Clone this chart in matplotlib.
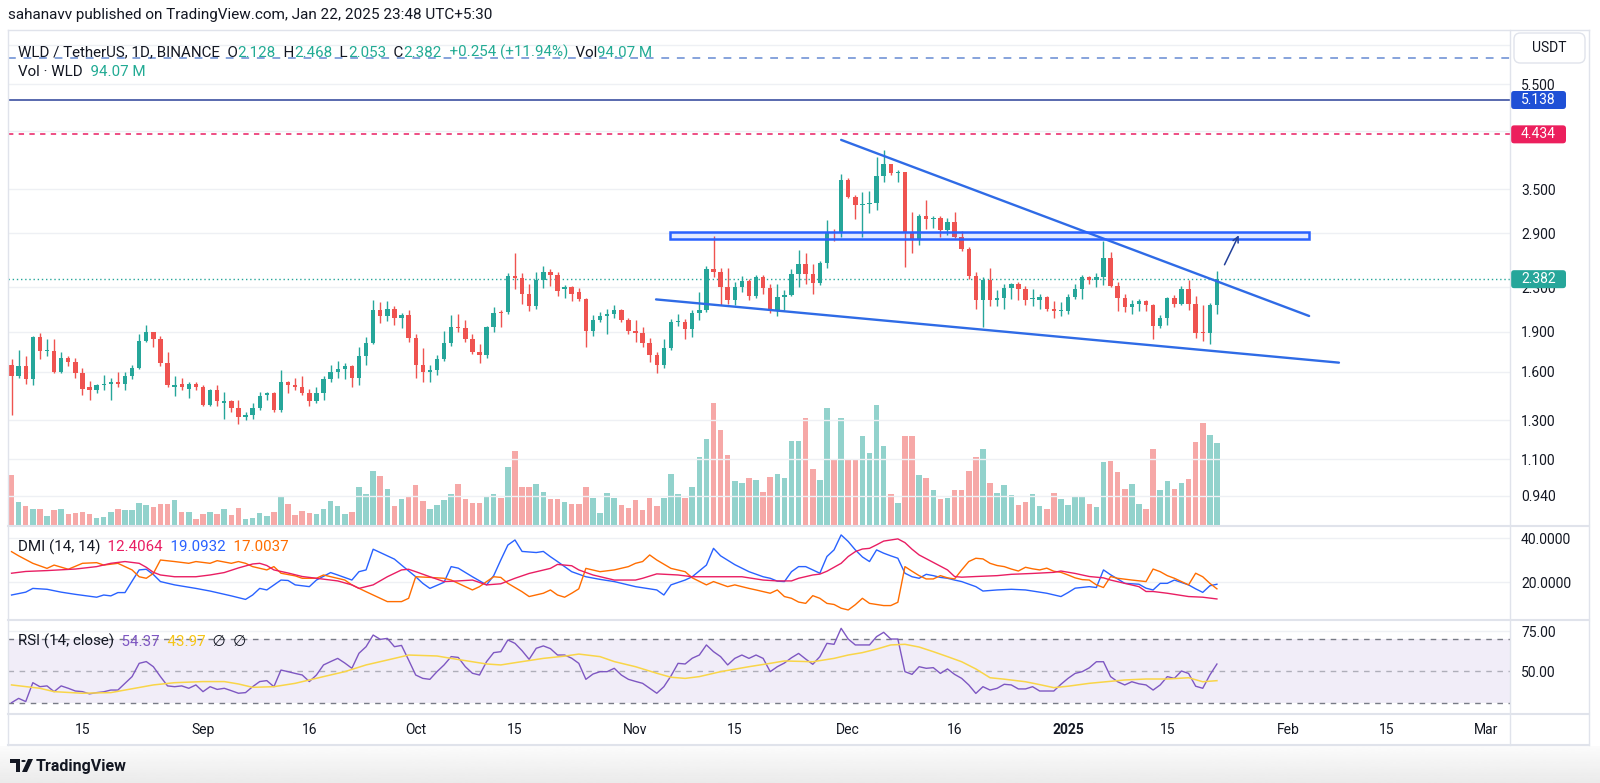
import numpy as np
import pandas as pd
import matplotlib
matplotlib.use('Agg')
import matplotlib.pyplot as plt
import matplotlib.dates as mdates
from matplotlib.ticker import NullLocator, FixedLocator, FixedFormatter
from matplotlib.patches import Rectangle, FancyBboxPatch, Polygon, Circle
from matplotlib.lines import Line2D
from matplotlib.offsetbox import TextArea, HPacker, AnnotationBbox

plt.rcParams['font.family'] = ['Roboto', 'DejaVu Sans']

W, H = 1600, 783
UP, DOWN = '#26a69a', '#ef5350'
UPTXT = '#22ab94'
INK = '#131722'
GRID = '#eef0f4'
BORDER = '#e0e3eb'

# ---- daily candles WLD/USDT, first bar 2024-08-05 ----
first_day = '2024-08-05'
opens = [1.65, 1.57, 1.64, 1.55, 1.86, 1.75, 1.75, 1.60, 1.70, 1.67,
         1.59, 1.50, 1.48, 1.51, 1.52, 1.53, 1.52, 1.57, 1.63, 1.83,
         1.90, 1.84, 1.66, 1.50, 1.52, 1.49, 1.52, 1.50, 1.39, 1.48,
         1.40, 1.41, 1.37, 1.32, 1.33, 1.37, 1.45, 1.46, 1.36, 1.53,
         1.51, 1.50, 1.46, 1.41, 1.46, 1.55, 1.60, 1.62, 1.64, 1.56,
         1.71, 1.81, 2.09, 2.03, 2.10, 2.02, 2.04, 1.85, 1.65, 1.60,
         1.61, 1.69, 1.81, 1.94, 1.93, 1.84, 1.74, 1.72, 1.94, 2.07,
         2.07, 2.41, 2.39, 2.24, 2.12, 2.37, 2.46, 2.43, 2.28, 2.30,
         2.25, 2.19, 1.91, 2.00, 2.03, 2.05, 2.09, 2.00, 1.91, 1.89,
         1.81, 1.72, 1.65, 1.77, 1.98, 1.98, 1.92, 2.06, 2.09, 2.49,
         2.46, 2.30, 2.18, 2.30, 2.36, 2.22, 2.40, 2.29, 2.09, 2.21,
         2.23, 2.44, 2.54, 2.44, 2.34, 2.55, 2.92, 2.90, 3.64, 3.39,
         3.27, 3.29, 3.30, 3.71, 3.90, 3.75, 3.77, 2.91, 2.83, 3.13,
         3.08, 3.10, 2.94, 3.05, 2.86, 2.71, 2.41, 2.18, 2.37, 2.18,
         2.20, 2.29, 2.33, 2.28, 2.19, 2.18, 2.21, 2.10, 2.08, 2.08,
         2.21, 2.28, 2.40, 2.37, 2.40, 2.61, 2.31, 2.20, 2.11, 2.14,
         2.17, 2.13, 1.95, 2.02, 2.20, 2.14, 2.28, 2.14, 1.90, 1.89,
         2.128]
highs = [1.69, 1.76, 1.71, 1.87, 1.89, 1.84, 1.84, 1.74, 1.71, 1.70,
         1.63, 1.54, 1.52, 1.58, 1.56, 1.60, 1.60, 1.65, 1.88, 1.96,
         1.90, 1.87, 1.74, 1.57, 1.56, 1.53, 1.53, 1.51, 1.49, 1.51,
         1.47, 1.42, 1.42, 1.35, 1.40, 1.47, 1.47, 1.47, 1.61, 1.54,
         1.56, 1.57, 1.49, 1.50, 1.57, 1.65, 1.68, 1.66, 1.65, 1.78,
         1.86, 2.18, 2.16, 2.17, 2.12, 2.06, 2.09, 1.88, 1.77, 1.65,
         1.72, 1.91, 2.04, 2.05, 2.00, 1.88, 1.80, 1.95, 2.11, 2.09,
         2.45, 2.66, 2.45, 2.33, 2.46, 2.52, 2.49, 2.46, 2.32, 2.31,
         2.29, 2.20, 2.04, 2.07, 2.10, 2.13, 2.10, 2.02, 2.00, 1.94,
         1.85, 1.74, 1.84, 2.01, 2.05, 2.01, 2.09, 2.25, 2.52, 2.87,
         2.50, 2.50, 2.35, 2.41, 2.38, 2.42, 2.42, 2.33, 2.33, 2.27,
         2.49, 2.70, 2.67, 2.54, 2.57, 3.07, 2.96, 3.74, 3.68, 3.42,
         3.46, 3.47, 4.02, 4.15, 3.90, 3.80, 3.78, 3.18, 3.15, 3.35,
         3.13, 3.12, 3.10, 3.18, 2.93, 2.73, 2.46, 2.40, 2.50, 2.27,
         2.33, 2.34, 2.35, 2.31, 2.28, 2.24, 2.22, 2.17, 2.16, 2.24,
         2.33, 2.43, 2.41, 2.45, 2.80, 2.68, 2.35, 2.24, 2.18, 2.19,
         2.18, 2.14, 2.04, 2.21, 2.23, 2.31, 2.37, 2.22, 2.13, 2.15,
         2.468]
lows = [1.33, 1.56, 1.52, 1.51, 1.69, 1.71, 1.59, 1.59, 1.64, 1.56,
        1.45, 1.42, 1.46, 1.48, 1.42, 1.50, 1.48, 1.55, 1.62, 1.82,
        1.78, 1.64, 1.50, 1.44, 1.48, 1.43, 1.48, 1.38, 1.38, 1.38,
        1.31, 1.35, 1.28, 1.30, 1.31, 1.36, 1.42, 1.35, 1.35, 1.46,
        1.48, 1.45, 1.38, 1.40, 1.42, 1.53, 1.56, 1.55, 1.50, 1.51,
        1.65, 1.80, 1.97, 1.99, 1.96, 1.93, 1.82, 1.56, 1.53, 1.53,
        1.58, 1.68, 1.79, 1.90, 1.82, 1.73, 1.66, 1.70, 1.90, 1.94,
        2.05, 2.28, 2.14, 2.08, 2.10, 2.29, 2.31, 2.22, 2.20, 2.17,
        2.17, 1.78, 1.87, 1.98, 1.88, 2.02, 1.98, 1.88, 1.82, 1.78,
        1.67, 1.59, 1.63, 1.76, 1.95, 1.84, 1.86, 2.00, 2.07, 2.40,
        2.13, 2.14, 2.13, 2.25, 2.18, 2.20, 2.24, 2.06, 2.03, 2.09,
        2.22, 2.30, 2.33, 2.24, 2.32, 2.50, 2.81, 2.85, 3.37, 3.08,
        2.86, 3.16, 3.20, 3.62, 3.73, 3.62, 2.51, 2.66, 2.76, 2.96,
        2.97, 2.85, 2.88, 2.84, 2.69, 2.38, 2.10, 1.94, 2.12, 2.12,
        2.10, 2.19, 2.18, 2.13, 2.12, 2.10, 2.08, 2.02, 2.03, 2.05,
        2.19, 2.19, 2.33, 2.30, 2.32, 2.30, 2.08, 2.07, 2.05, 2.08,
        2.08, 1.84, 1.93, 1.96, 2.11, 2.13, 2.09, 1.85, 1.83, 1.80,
        2.053]
closes = [1.57, 1.64, 1.55, 1.86, 1.75, 1.76, 1.60, 1.70, 1.67, 1.59,
          1.49, 1.48, 1.51, 1.52, 1.53, 1.52, 1.57, 1.63, 1.83, 1.90,
          1.84, 1.66, 1.51, 1.51, 1.50, 1.52, 1.50, 1.39, 1.48, 1.41,
          1.41, 1.37, 1.32, 1.33, 1.37, 1.44, 1.46, 1.36, 1.53, 1.51,
          1.50, 1.46, 1.41, 1.46, 1.55, 1.60, 1.62, 1.64, 1.56, 1.71,
          1.81, 2.09, 2.03, 2.10, 2.02, 2.04, 1.85, 1.65, 1.60, 1.61,
          1.69, 1.81, 1.94, 1.93, 1.84, 1.74, 1.72, 1.94, 2.06, 2.06,
          2.41, 2.39, 2.24, 2.12, 2.37, 2.46, 2.43, 2.26, 2.30, 2.24,
          2.19, 1.91, 2.00, 2.03, 2.05, 2.09, 2.00, 1.91, 1.89, 1.81,
          1.72, 1.65, 1.77, 1.98, 1.99, 1.92, 2.06, 2.09, 2.49, 2.46,
          2.30, 2.18, 2.30, 2.36, 2.22, 2.40, 2.29, 2.09, 2.21, 2.23,
          2.44, 2.54, 2.44, 2.34, 2.55, 2.92, 2.90, 3.64, 3.39, 3.27,
          3.29, 3.30, 3.71, 3.90, 3.75, 3.77, 2.91, 2.83, 3.13, 3.08,
          3.10, 2.94, 3.05, 2.86, 2.71, 2.41, 2.18, 2.37, 2.18, 2.20,
          2.29, 2.33, 2.28, 2.18, 2.20, 2.21, 2.10, 2.08, 2.09, 2.21,
          2.28, 2.40, 2.37, 2.40, 2.61, 2.31, 2.20, 2.11, 2.14, 2.17,
          2.13, 1.95, 2.02, 2.20, 2.14, 2.28, 2.14, 1.89, 1.89, 2.128,
          2.382]
volumes = [57, 26.4, 21.8, 18, 18.7, 10.3, 16.8, 18.7, 12.2, 14.1,
           14.9, 12.2, 8, 9.2, 15.3, 18, 17.2, 17.2, 25.2, 22.9,
           20.6, 24.1, 24.1, 28.7, 15.3, 15.3, 6.9, 13, 14.9, 13,
           18.7, 11.1, 19.1, 7.3, 7.6, 13.8, 10, 14.9, 33.3, 23.7,
           11.9, 16, 14.1, 13, 18, 27.5, 21.4, 12.2, 15.3, 43.2,
           35.2, 62, 56.2, 40.9, 22.2, 30.2, 33.3, 45.5, 27.2, 18.7,
           23.3, 29, 35.9, 47.4, 29.8, 25.2, 25.2, 32.5, 35.9, 31.3,
           66.9, 84.9, 43.6, 43.6, 46.7, 37.9, 29.4, 29.4, 26.4, 23.7,
           24, 43.6, 30.6, 14.1, 36.7, 30.6, 22.9, 19.9, 28.3, 16.8,
           30.6, 21.8, 30.6, 58.1, 35.2, 31.3, 43.6, 78, 98.3, 140.3,
           108.6, 80.3, 50.5, 48.2, 54.3, 52, 38.2, 55.4, 58.8, 54.3,
           96.3, 96.3, 123.1, 64.6, 51.3, 134.5, 75.4, 123.1, 76.1, 74.6,
           102, 82.2, 137.6, 90.3, 35.2, 25.6, 102.1, 102.1, 57.4, 54.3,
           39.8, 30.2, 31.3, 40.1, 40.1, 61.9, 78.4, 86.8, 48.2, 36.3,
           45.5, 34.4, 22.9, 26.4, 35.2, 21.8, 18, 37.1, 29.4, 22.9,
           32.1, 33.3, 23.7, 20.6, 72.3, 73.4, 61.2, 40.9, 46.7, 23.7,
           18.7, 86.8, 40.1, 50.5, 40.9, 48.2, 52.4, 95.6, 117.3, 102.9,
           94.07]

# ---- DMI (14,14): vertices (bar index, value) ----
adx_idx = [0, 2, 5, 9, 12, 14, 16, 18, 19, 20, 21, 23, 26, 28, 30, 32, 34, 35, 36, 37,
           39, 41, 43, 46, 48, 49, 51, 53, 55, 56, 57, 59, 61, 63, 65, 67, 69, 71, 73, 76,
           77, 79, 80, 82, 85, 88, 89, 91, 94, 96, 99, 103, 106, 108, 110, 111, 113, 114, 115, 116,
           117, 118, 119, 120, 121, 122, 123, 124, 125, 126, 127, 128, 130, 132, 133, 134, 136, 139, 141, 144,
           147, 148, 150, 152, 154, 155, 157, 159, 160, 161, 163, 164, 166, 168, 170]
adx_val = [24.1, 24.9, 25.3, 26.0, 27.1, 28.6, 29.4, 28.6, 26.8, 24.5, 23.3, 22.5, 22.5, 23.3, 24.4, 26.5, 28.3, 28.6, 27.6, 25.6,
           24.2, 22.6, 21.8, 20.6, 18.8, 17.2, 18.8, 22.5, 25.6, 25.9, 24.8, 22.5, 20.3, 20.6, 21.0, 18.8, 19.3, 21.8, 24.0, 26.3,
           28.1, 27.5, 25.6, 23.3, 21.0, 21.0, 21.8, 23.8, 23.3, 22.5, 22.5, 22.5, 21.0, 20.6, 20.6, 21.8, 23.3, 23.7, 25.0, 26.8,
           28.6, 31.7, 33.9, 35.1, 35.4, 37.0, 38.7, 39.2, 39.7, 38.0, 35.0, 32.4, 29.0, 25.6, 22.6, 22.3, 22.6, 23.0, 23.6, 24.0,
           24.5, 25.1, 24.0, 22.6, 22.0, 21.0, 19.5, 18.0, 15.8, 15.8, 15.0, 14.5, 13.5, 13.2, 12.4064]
pdi_idx = [0, 2, 3, 5, 7, 9, 12, 13, 14, 15, 16, 17, 18, 19, 20, 21, 23, 26, 28, 31,
           33, 34, 35, 36, 38, 39, 40, 42, 43, 45, 46, 48, 49, 50, 51, 52, 54, 55, 57, 58,
           59, 61, 62, 63, 65, 67, 68, 69, 70, 71, 72, 74, 75, 76, 77, 79, 81, 83, 85, 88,
           91, 92, 93, 95, 96, 98, 99, 100, 102, 104, 106, 107, 108, 109, 110, 111, 112, 114, 115, 116,
           117, 118, 119, 120, 121, 122, 123, 124, 125, 126, 127, 128, 129, 130, 131, 132, 133, 134, 136, 137,
           139, 141, 143, 145, 146, 148, 149, 150, 152, 153, 154, 155, 156, 157, 159, 160, 161, 162, 163, 164,
           166, 167, 168, 169, 170]
pdi_val = [14.2, 15.5, 17.2, 16.8, 15.5, 14.5, 13.2, 14.2, 13.8, 15.3, 15.3, 20.5, 25.6, 25.9, 23.5, 20.3, 18.8, 17.2, 16.0, 13.8,
           12.2, 14.2, 17.2, 16.5, 21.0, 20.8, 18.8, 18.0, 21.0, 24.4, 23.3, 21.0, 24.8, 25.6, 35.0, 33.5, 30.5, 27.8, 22.5, 19.5,
           17.2, 20.0, 27.1, 26.4, 22.5, 18.8, 23.0, 30.1, 36.9, 39.2, 34.0, 33.5, 34.0, 31.6, 29.4, 24.8, 22.5, 21.3, 20.3, 18.0,
           16.5, 14.2, 18.8, 21.0, 22.5, 27.8, 35.4, 32.0, 28.0, 24.8, 22.5, 21.8, 20.5, 20.3, 24.8, 27.1, 27.1, 24.1, 31.7, 34.7,
           41.5, 38.5, 34.7, 31.5, 29.4, 34.7, 33.2, 32.0, 30.9, 24.1, 22.5, 21.8, 23.6, 23.0, 22.2, 21.8, 21.0, 20.3, 18.0, 16.0,
           16.5, 16.8, 16.5, 15.5, 15.0, 13.5, 15.3, 17.3, 18.0, 17.6, 25.6, 23.4, 21.5, 19.5, 19.1, 17.3, 16.5, 19.5, 19.5, 21.0,
           18.8, 17.0, 15.4, 18.4, 19.0932]
mdi_idx = [0, 1, 3, 5, 6, 8, 10, 12, 13, 15, 16, 17, 18, 19, 20, 21, 23, 25, 26, 28,
           29, 31, 32, 33, 34, 36, 37, 38, 40, 41, 43, 44, 46, 47, 48, 50, 52, 53, 55, 56,
           57, 59, 61, 62, 63, 65, 66, 67, 68, 69, 70, 72, 73, 75, 76, 77, 78, 79, 80, 81,
           83, 85, 87, 88, 89, 90, 91, 93, 95, 96, 98, 99, 101, 102, 104, 105, 107, 108, 109, 110,
           111, 112, 113, 114, 115, 116, 117, 118, 119, 120, 121, 123, 124, 125, 126, 127, 128, 129, 130, 131,
           132, 133, 134, 135, 136, 137, 138, 139, 140, 141, 142, 143, 144, 145, 146, 147, 148, 149, 150, 151,
           152, 153, 154, 155, 156, 158, 160, 161, 162, 163, 164, 165, 166, 167, 168, 169, 170]
mdi_val = [33.9, 32.0, 28.6, 26.3, 27.8, 25.9, 28.6, 28.9, 27.8, 28.6, 27.1, 25.6, 22.5, 21.8, 24.0, 30.1, 29.4, 28.6, 29.4, 28.6,
           29.8, 28.6, 29.4, 28.6, 27.1, 25.6, 27.1, 24.1, 22.9, 21.8, 21.8, 23.3, 21.8, 21.0, 18.8, 15.7, 12.7, 11.2, 11.2, 12.7,
           22.5, 22.2, 21.8, 21.0, 19.5, 16.5, 18.0, 20.3, 22.5, 22.2, 19.5, 15.7, 13.5, 15.0, 16.5, 14.2, 13.2, 15.0, 17.0, 26.3,
           24.8, 25.6, 27.1, 28.6, 29.4, 32.4, 30.1, 26.3, 24.8, 22.0, 18.8, 20.3, 18.0, 18.8, 17.2, 16.5, 15.0, 16.5, 13.5, 12.7,
           11.0, 10.4, 13.9, 12.7, 10.4, 9.9, 8.2, 7.4, 9.8, 12.7, 10.4, 9.4, 9.4, 10.9, 27.1, 25.0, 23.0, 21.5, 21.5, 23.0,
           22.0, 21.5, 25.6, 29.4, 30.9, 30.6, 28.6, 27.6, 27.1, 26.0, 25.1, 26.8, 26.1, 25.6, 26.4, 25.0, 24.5, 23.3, 22.0, 21.2,
           21.0, 18.8, 17.6, 22.6, 21.8, 21.0, 20.3, 26.0, 24.8, 23.0, 21.8, 20.3, 18.8, 24.1, 22.5, 19.5, 17.0037]

# ---- RSI (14, close) per bar, and its MA (vertices) ----
rsi = [30.2, 32.9, 30.9, 42.7, 40.2, 40.7, 37.1, 40.7, 39.2, 37.5,
       37.1, 35.7, 36.5, 37.0, 38.1, 38.1, 42.3, 46.5, 54.8, 55.9,
       52.7, 46.5, 40.7, 40.2, 40.7, 39.2, 41.3, 37.1, 40.2, 38.5,
       39.2, 37.7, 36.1, 36.5, 40.2, 43.4, 44.0, 40.2, 50.6, 49.6,
       48.5, 47.5, 43.4, 47.5, 53.8, 55.9, 57.9, 55.0, 51.7, 61.1,
       65.2, 72.5, 69.8, 70.4, 65.2, 66.0, 56.9, 47.5, 45.4, 44.8,
       49.6, 53.8, 59.0, 58.5, 52.7, 48.6, 47.5, 55.9, 61.5, 62.1,
       69.4, 67.3, 62.7, 57.3, 64.2, 65.7, 64.0, 60.0, 60.0, 58.0,
       54.8, 44.8, 48.1, 49.6, 49.6, 51.7, 47.5, 44.8, 43.5, 42.3,
       39.2, 36.1, 40.2, 46.9, 54.8, 54.4, 58.0, 60.0, 66.3, 62.1,
       59.0, 53.8, 57.9, 60.0, 57.9, 60.0, 57.9, 49.6, 52.7, 55.0,
       58.3, 61.0, 57.5, 54.2, 59.0, 67.3, 66.7, 76.7, 70.0, 66.3,
       66.3, 66.3, 71.5, 74.2, 70.0, 70.0, 49.6, 47.9, 52.7, 51.7,
       52.1, 48.5, 51.3, 47.9, 45.4, 41.3, 36.0, 40.2, 38.1, 39.2,
       41.7, 41.3, 38.8, 38.8, 40.2, 37.5, 37.5, 37.5, 41.7, 45.4,
       48.5, 49.6, 52.0, 55.8, 55.8, 46.5, 43.3, 41.3, 43.3, 42.0,
       41.3, 38.1, 41.3, 46.5, 45.4, 50.0, 48.5, 40.5, 39.2, 47.5,
       54.37]
rsi_ma_idx = [0, 4, 6, 10, 14, 16, 20, 23, 27, 30, 32, 34, 37, 40, 44, 47, 50, 54, 56, 60,
              62, 67, 69, 71, 75, 78, 80, 83, 85, 88, 91, 93, 95, 97, 100, 104, 107, 109, 113, 116,
              118, 120, 122, 124, 126, 128, 130, 132, 134, 136, 138, 140, 143, 145, 147, 149, 152, 157, 160, 163,
              166, 168, 170]
rsi_ma_val = [41.3, 39.2, 37.1, 36.1, 36.5, 38.1, 41.3, 42.7, 43.4, 43.4, 41.9, 39.8, 40.2, 42.3, 46.5, 49.6, 53.8, 57.9, 60.0, 59.4,
              57.9, 54.4, 53.8, 55.2, 57.9, 59.3, 60.6, 59.0, 55.9, 52.7, 48.6, 46.1, 45.4, 46.5, 49.6, 52.7, 54.8, 56.3, 55.8, 57.9,
              60.0, 61.5, 63.7, 66.3, 66.7, 65.0, 62.1, 59.0, 55.8, 51.3, 45.8, 44.9, 43.3, 41.5, 39.6, 40.5, 42.3, 44.4, 45.0, 45.0,
              45.8, 43.3, 43.97]

# ---- drawings on the price pane ----
levels = {'6.15': 6.15, 'resist': 5.138, 'target': 4.434, 'last': 2.382}
upper_line = (['2024-11-30T00:00', '2025-02-04T00:00'], [4.33, 2.034])
lower_line = (['2024-11-03T21:30', '2025-02-08T05:00'], [2.184, 1.665])
zone = (['2024-11-05T22:00', '2025-02-04T00:00'], [2.831, 2.919])
arrow = (['2025-01-22T21:30', '2025-01-25T06:00'], [2.507, 2.907])

price_ticks = [0.94, 1.1, 1.3, 1.6, 1.9, 2.3, 2.9, 3.5, 4.5, 5.5, 6.5]
price_labels = ['0.940', '1.100', '1.300', '1.600', '1.900', '2.300', '2.900', '3.500', '', '5.500', '']
date_ticks = ['2024-08-15', '2024-09-01', '2024-09-16', '2024-10-01', '2024-10-15', '2024-11-01', '2024-11-15',
              '2024-12-01', '2024-12-16', '2025-01-01', '2025-01-15', '2025-02-01', '2025-02-15', '2025-03-01']
date_labels = ['15', 'Sep', '16', 'Oct', '15', 'Nov', '15', 'Dec', '16', '2025', '15', 'Feb', '15', 'Mar']


def d2n(s):
    return mdates.date2num(np.datetime64(s))


dates = pd.date_range(first_day, periods=len(closes), freq='D')
x = mdates.date2num(dates.values)
o, h, l, c = map(np.asarray, (opens, highs, lows, closes))
cols = np.where(c >= o, UP, DOWN)
x_left, x_right = d2n('2024-08-04T12:00'), d2n('2025-03-04T08:00')

fig = plt.figure(figsize=(W / 100, H / 100), dpi=100, facecolor='white')


def rect(top, bottom, left=8, right=1510):
    return [left / W, 1 - bottom / H, (right - left) / W, (bottom - top) / H]


def fx(px):
    return px / W


def fy(py):
    return 1 - py / H


ax_vol = fig.add_axes(rect(31, 525), label='vol')
ax = fig.add_axes(rect(31, 525), label='price', sharex=ax_vol)
ax_dmi = fig.add_axes(rect(527, 619), label='dmi', sharex=ax_vol)
ax_rsi = fig.add_axes(rect(620, 713), label='rsi', sharex=ax_vol)
ax_vol.set_zorder(0)
ax.set_zorder(1)
ax.patch.set_visible(False)

# volume
ax_vol.bar(x, volumes, width=0.78, color=cols, alpha=0.5, linewidth=0)
ax_vol.set_ylim(0, 494 * 1.147)
ax_vol.axis('off')

# price
ax.set_yscale('log')
for lv in price_ticks:
    ax.axhline(lv, color=GRID, lw=1, zorder=0)
ax.vlines(x, l, h, colors=cols, lw=1.0, zorder=3)
blo = np.minimum(o, c)
bh = np.maximum(np.abs(c - o), blo * 0.004)
ax.bar(x, bh, bottom=blo, width=0.62, color=cols, linewidth=0, zorder=4)

ax.axhline(levels['6.15'], color='#86a3dc', lw=1.4, ls=(0, (4, 4)), zorder=2)
ax.axhline(levels['resist'], color='#4b5ea8', lw=1.3, zorder=2)
ax.axhline(levels['target'], color='#e91e63', lw=1.1, ls=(0, (3.5, 3.5)), zorder=2)
ax.axhline(levels['last'], color=UP, lw=1.0, ls=(0, (1, 2)), zorder=2)

for xs, ys in (upper_line, lower_line):
    ax.plot([d2n(s) for s in xs], ys, color='#2f6be6', lw=1.7, zorder=5, solid_capstyle='round')
zx0, zx1 = d2n(zone[0][0]), d2n(zone[0][1])
ax.add_patch(Rectangle((zx0, zone[1][0]), zx1 - zx0, zone[1][1] - zone[1][0],
                       facecolor=(0.16, 0.38, 1.0, 0.12), edgecolor='#2962ff', lw=1.8, zorder=5))
ax.annotate('', xy=(d2n(arrow[0][1]), arrow[1][1]), xytext=(d2n(arrow[0][0]), arrow[1][0]),
            arrowprops=dict(arrowstyle='->', color='#22409a', lw=1.1, mutation_scale=10), zorder=6)

ax.set_xlim(x_left, x_right)
ax.set_ylim(0.8297, 6.908)
ax.yaxis.set_major_locator(FixedLocator(price_ticks))
ax.yaxis.set_major_formatter(FixedFormatter(price_labels))
ax.yaxis.set_minor_locator(NullLocator())

# DMI
for lv in (20, 40):
    ax_dmi.axhline(lv, color=GRID, lw=1, zorder=0)
ax_dmi.plot(x[pdi_idx], pdi_val, color='#2962ff', lw=1.0)
ax_dmi.plot(x[mdi_idx], mdi_val, color='#ff6d00', lw=1.0)
ax_dmi.plot(x[adx_idx], adx_val, color='#e91e63', lw=1.0)
ax_dmi.set_ylim(3.3, 45.1)
ax_dmi.set_yticks([20, 40])
ax_dmi.set_yticklabels(['20.0000', '40.0000'])

# RSI
ax_rsi.axhline(75, color=GRID, lw=1, zorder=0)
ax_rsi.axhspan(30, 70, color='#7e57c2', alpha=0.1, lw=0)
for lv, a in ((70, 1.0), (50, 0.55), (30, 1.0)):
    ax_rsi.axhline(lv, color='#787b86', lw=1.0, ls=(0, (4, 4)), alpha=a)
ax_rsi.plot(x, rsi, color='#7e57c2', lw=1.0)
ax_rsi.plot(x[rsi_ma_idx], rsi_ma_val, color='#f9d548', lw=1.1)
ax_rsi.set_ylim(23.75, 81.9)
ax_rsi.set_yticks([50, 75])
ax_rsi.set_yticklabels(['50.00', '75.00'])
ax_rsi.set_xticks([d2n(s) for s in date_ticks])
ax_rsi.set_xticklabels(date_labels)
ax_rsi.get_xticklabels()[9].set_fontweight('bold')
ax_rsi.tick_params(axis='x', length=0, pad=7, labelsize=10, colors=INK)

for a in (ax, ax_dmi, ax_rsi):
    for sp in a.spines.values():
        sp.set_visible(False)
    a.yaxis.tick_right()
    a.tick_params(axis='y', length=0, pad=8, labelsize=10, colors=INK)
for a in (ax, ax_dmi):
    a.tick_params(axis='x', bottom=False, labelbottom=False)


# frame and separators
def fig_line(x0, y0, x1, y1, color=BORDER, lw=1.0):
    fig.add_artist(Line2D([fx(x0), fx(x1)], [fy(y0), fy(y1)], transform=fig.transFigure, color=color, lw=lw))


fig_line(8, 30, 1589, 30)
fig_line(8, 30, 8, 745)
fig_line(1589, 30, 1589, 745)
fig_line(1510, 30, 1510, 745)
for yy in (526, 619.5, 713.5, 745):
    fig_line(8, yy, 1589, yy, lw=1.5)


# legends
def legend_row(px, py, parts, size=10.9):
    boxes = [TextArea(s, textprops=dict(color=col, fontsize=size)) for s, col in parts]
    pack = HPacker(children=boxes, align='baseline', pad=0, sep=0)
    ab = AnnotationBbox(pack, (px, H - py), xycoords='figure pixels', box_alignment=(0, 0.5),
                        frameon=False, pad=0, annotation_clip=False)
    ax.add_artist(ab)


legend_row(18, 52.5, [('WLD / TetherUS, 1D, BINANCE', INK), ('  O', INK), ('2.128', UPTXT),
                      ('  H', INK), ('2.468', UPTXT), ('  L', INK), ('2.053', UPTXT),
                      ('  C', INK), ('2.382', UPTXT), ('  +0.254 (+11.94%)', UPTXT),
                      ('  Vol', INK), ('94.07 M', UPTXT)])
legend_row(18, 71.5, [('Vol · WLD', INK), ('  94.07 M', UPTXT)])
legend_row(18, 547, [('DMI (14, 14)', INK), ('  12.4064', '#e91e63'), ('  19.0932', '#2962ff'),
                     ('  17.0037', '#ff6d00')])
legend_row(18, 641.5, [('RSI (14, close)', INK), ('  54.37', '#7e57c2'), ('  43.97', '#f5c518'),
                       ('  ∅  ∅', INK)])

fig.text(fx(8), fy(15.5), 'sahanavv published on TradingView.com, Jan 22, 2025 23:48 UTC+5:30',
         fontsize=11, color=INK, va='center', ha='left')

# right-axis tags
asp = W / H
fig.patches.append(FancyBboxPatch((fx(1514), fy(63)), fx(71), 30 / H, boxstyle='round,pad=0,rounding_size=0.004',
                                  mutation_aspect=asp, transform=fig.transFigure, figure=fig,
                                  facecolor='white', edgecolor=BORDER, lw=1))
fig.text(fx(1549.5), fy(48), 'USDT', fontsize=10, color=INK, ha='center', va='center')


def tag(value, text, color):
    yd = ax.transData.transform((x_left, value))[1]
    fig.patches.append(FancyBboxPatch((fx(1511), (yd - 9) / H), fx(55), 18 / H,
                                      boxstyle='round,pad=0,rounding_size=0.002', mutation_aspect=asp,
                                      transform=fig.transFigure, figure=fig, facecolor=color, edgecolor='none'))
    fig.text(fx(1538.5), yd / H, text, fontsize=10, color='white', ha='center', va='center')


tag(levels['resist'], '5.138', '#1f50d6')
tag(levels['target'], '4.434', '#ec1f5d')
tag(levels['last'], '2.382', UP)

# bottom shading and logo
ax_bg = fig.add_axes([0, 0, 1, (H - 746) / H], zorder=-1)
ax_bg.imshow(np.linspace(0.985, 0.92, 40)[:, None] * np.ones((1, 2)), cmap='gray', vmin=0, vmax=1,
             aspect='auto', extent=(0, 1, 0, 1))
ax_bg.axis('off')
fig.patches.append(Polygon([(fx(10), fy(759)), (fx(20), fy(759)), (fx(20), fy(772)), (fx(16), fy(772)),
                            (fx(16), fy(763)), (fx(10), fy(763))], closed=True, transform=fig.transFigure,
                           figure=fig, facecolor=INK, edgecolor='none'))
fig.patches.append(Polygon([(fx(28), fy(759)), (fx(33), fy(759)), (fx(27), fy(772)), (fx(22), fy(772))],
                           closed=True, transform=fig.transFigure, figure=fig, facecolor=INK, edgecolor='none'))
fig.patches.append(Circle((fx(23.5), fy(761)), 2.2 / W, transform=fig.transFigure, figure=fig,
                          facecolor=INK, edgecolor='none'))
fig.text(fx(36), fy(766), 'TradingView', fontsize=11.5, color=INK, fontweight='bold', ha='left', va='center')

fig.savefig('out.png', dpi=100, facecolor='white')
